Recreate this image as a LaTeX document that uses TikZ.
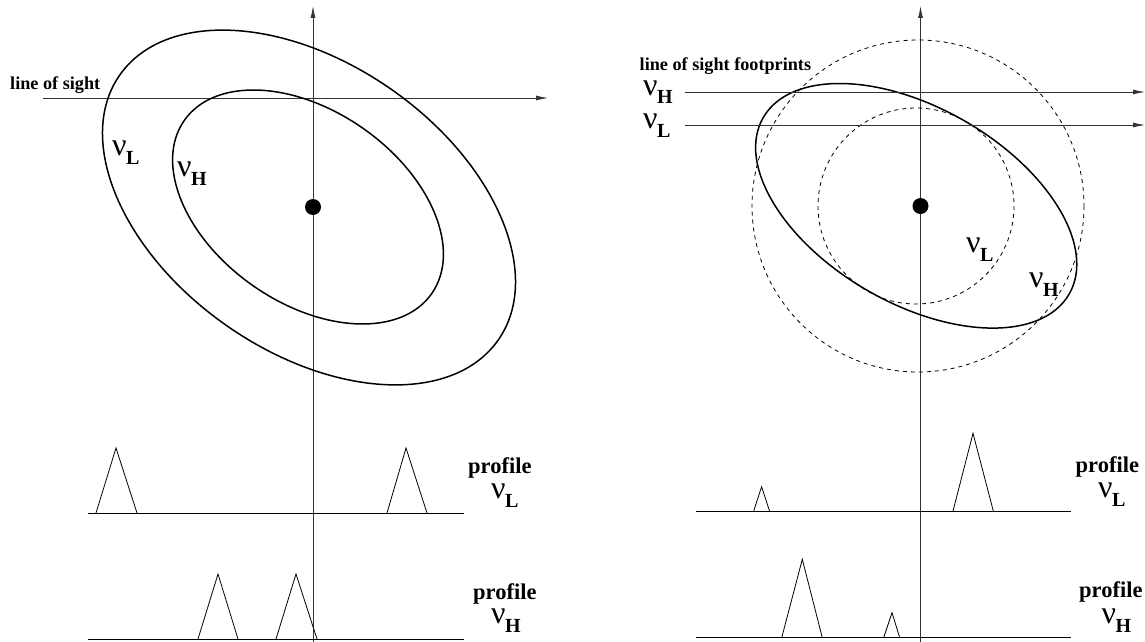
\documentclass[tikz,border=0pt]{standalone}
\usepackage{fontspec}
\setmainfont{Liberation Serif}
\usetikzlibrary{arrows.meta}
\newcommand{\nusub}[1]{\raisebox{0pt}[15pt][9pt]{{\fontsize{32}{32}\selectfont ν}\kern-0.5pt\raisebox{-9pt}{\fontsize{20}{20}\selectfont\bfseries #1}}}
\tikzset{
  axis/.style={line width=0.8pt, draw=black!80},
  arr/.style={-{Latex[length=12pt,width=5pt]}},
  curve/.style={line width=1.5pt},
  fp/.style={line width=0.8pt, dash pattern=on 4pt off 4pt},
  peak/.style={line width=0.8pt},
  lbl/.style={inner sep=0pt, anchor=base west, font=\bfseries\fontsize{18.2}{18}\selectfont},
  plbl/.style={inner sep=0pt, anchor=base west, font=\bfseries\fontsize{22.5}{22}\selectfont},
  nul/.style={inner sep=0pt, anchor=base west},
}
\begin{document}
\begin{tikzpicture}[x=1pt,y=-1pt]
\useasboundingbox (0,0) rectangle (1145,642);
% ---------------- left panel ----------------
\coordinate (la0) at (313,642);
\coordinate (la1) at (313,6);
\draw[axis,arr] (la0) -- (la1);
\coordinate (ls0) at (43,98);
\coordinate (ls1) at (548,98);
\draw[axis,arr] (ls0) -- (ls1);
\node[lbl] (lostext) at (10,89) {line of sight};
\draw[curve,shift={(309,207.5)},rotate=-35] (0,0) ellipse [x radius=231, y radius=144];
\draw[curve,shift={(308,207)},rotate=-35] (0,0) ellipse [x radius=151, y radius=96];
\fill (313,207) circle [radius=8];
\node[nul] (lnuL) at (112,155) {\nusub{L}};
\node[nul] (lnuH) at (177,176) {\nusub{H}};
% profiles
\coordinate (lb1a) at (88,513); \coordinate (lb1b) at (464,513);
\draw[peak] (lb1a) -- (lb1b);
\draw[peak] (96,513) -- (116,448) -- (137,513);
\draw[peak] (387,513) -- (406,448) -- (427,513);
\node[plbl] (lpL) at (468,473) {profile};
\node[nul] (lpnuL) at (491,498) {\nusub{L}};
\coordinate (lb2a) at (88,639); \coordinate (lb2b) at (464,639);
\draw[peak] (lb2a) -- (lb2b);
\draw[peak] (198,639) -- (218,574) -- (238,639);
\draw[peak] (276,639) -- (296,574) -- (317,639);
\node[plbl] (lpH) at (473,599) {profile};
\node[nul] (lpnuH) at (491,623) {\nusub{H}};
% ---------------- right panel ----------------
\coordinate (ra0) at (920.5,642);
\coordinate (ra1) at (920.5,6);
\draw[axis,arr] (ra0) -- (ra1);
\draw[fp] (918,206) circle [radius=166];
\draw[fp] (916,206) circle [radius=98];
\draw[curve,shift={(916.2,205.8)},rotate=-30] (0,0) ellipse [x radius=176.6, y radius=97.7];
\fill (920.5,206) circle [radius=8];
\node[lbl] (fptext) at (639.5,70.5) {line of sight footprints};
\coordinate (rh0) at (684.5,92); \coordinate (rh1) at (1145,92);
\coordinate (rl0) at (684.5,125); \coordinate (rl1) at (1145,125);
\draw[axis,arr] (rh0) -- (rh1);
\draw[axis,arr] (rl0) -- (rl1);
\node[nul] (rnuH) at (643,95) {\nusub{H}};
\node[nul] (rnuL) at (643,128) {\nusub{L}};
\node[nul] (rinL) at (966,252) {\nusub{L}};
\node[nul] (rinH) at (1029,287) {\nusub{H}};
% profiles
\coordinate (rb1a) at (696,511); \coordinate (rb1b) at (1071,511);
\draw[peak] (rb1a) -- (rb1b);
\draw[peak] (753.7,511) -- (761.6,486.7) -- (769.5,511);
\draw[peak] (953,511) -- (973,433.3) -- (993.3,511);
\node[plbl] (rpL) at (1075.5,472) {profile};
\node[nul] (rpnuL) at (1098,497) {\nusub{L}};
\coordinate (rb2a) at (696,637.3); \coordinate (rb2b) at (1071,637.3);
\draw[peak] (rb2a) -- (rb2b);
\draw[peak] (781.8,637.3) -- (802.3,559.3) -- (822.2,637.3);
\draw[peak] (883.8,637.3) -- (892,612.7) -- (899.6,637.3);
\node[plbl] (rpH) at (1079,597) {profile};
\node[nul] (rpnuH) at (1101.5,623) {\nusub{H}};
\end{tikzpicture}
\end{document}
